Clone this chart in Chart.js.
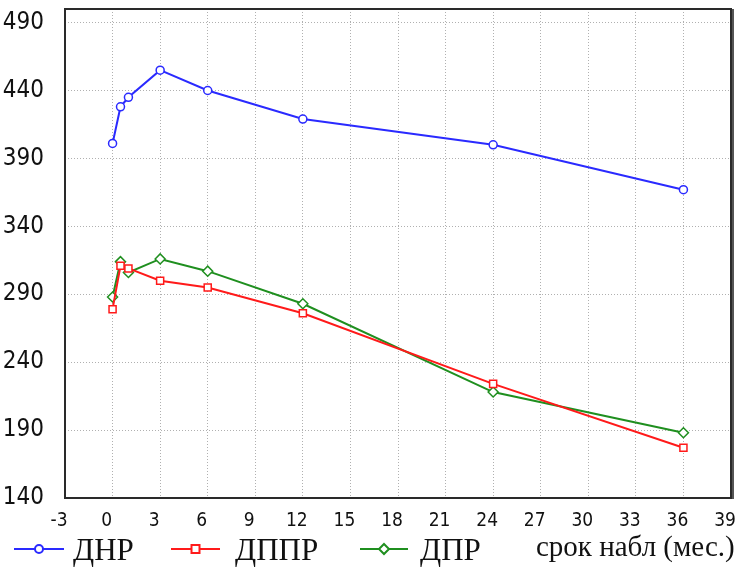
<!DOCTYPE html>
<html>
<head>
<meta charset="utf-8">
<script src="https://cdn.jsdelivr.net/npm/chart.js@4/dist/chart.umd.min.js"></script>
<style>
  html, body { margin: 0; padding: 0; background: #fff; }
  #wrap { width: 738px; height: 571px; }
</style>
</head>
<body>
<div id="wrap"><canvas id="chart" width="738" height="571"></canvas></div>
<script>
// observation time, months
const months = [0, 0.5, 1, 3, 6, 12, 24, 36];
// series values
const dnr = [401, 428, 435, 455, 440, 419, 400, 367];
const dppr = [279, 311, 309, 300, 295, 276, 224, 177];
const dpr = [288, 314, 306, 316, 307, 283, 218, 188];
// tick labels
const xTicks = [-3, 0, 3, 6, 9, 12, 15, 18, 21, 24, 27, 30, 33, 36, 39];
const yTicks = [140, 190, 240, 290, 340, 390, 440, 490];
const seriesNames = ['ДНР', 'ДППР', 'ДПР'];
const xTitle = 'срок набл (мес.)';

const tickFont = "'DejaVu Sans Condensed', 'Liberation Sans', sans-serif";
const serifFont = "'Liberation Serif', 'DejaVu Serif', serif";

function toPoints(vals) {
    return months.map((m, i) => ({ x: m, y: vals[i] }));
}

// plot frame + legend row drawn under the axes
const framePlugin = {
    id: 'frame',
    afterDraw(chart) {
        const ctx = chart.ctx;
        const a = chart.chartArea;
        ctx.save();
        ctx.strokeStyle = '#2a2a2a';
        ctx.lineWidth = 2;
        ctx.strokeRect(a.left, a.top, a.right - a.left, a.bottom - a.top);
        ctx.strokeStyle = '#555';
        ctx.lineWidth = 2;
        ctx.beginPath();
        ctx.moveTo(a.right + 2, a.top);
        ctx.lineTo(a.right + 2, a.bottom + 1);
        ctx.stroke();

        // legend
        const y = 549;
        const items = [
            { x0: 14, x1: 64, tx: 73 },
            { x0: 171, x1: 220, tx: 235 },
            { x0: 360, x1: 408, tx: 420 }
        ];
        ctx.font = '31px ' + serifFont;
        ctx.textBaseline = 'middle';
        ctx.fillStyle = '#111';
        chart.data.datasets.forEach((ds, i) => {
            const it = items[i];
            ctx.strokeStyle = ds.borderColor;
            ctx.lineWidth = 2;
            ctx.beginPath();
            ctx.moveTo(it.x0, y);
            ctx.lineTo(it.x1, y);
            ctx.stroke();
            const cx = (it.x0 + it.x1) / 2;
            ctx.fillStyle = '#fff';
            ctx.beginPath();
            if (ds.pointStyle === 'circle') {
                ctx.arc(cx, y, 4, 0, Math.PI * 2);
            } else if (ds.pointStyle === 'rect') {
                ctx.rect(cx - 4, y - 4, 8, 8);
            } else {
                ctx.moveTo(cx, y - 5); ctx.lineTo(cx + 5, y); ctx.lineTo(cx, y + 5); ctx.lineTo(cx - 5, y); ctx.closePath();
            }
            ctx.fill();
            ctx.stroke();
            ctx.fillStyle = '#111';
            ctx.fillText(ds.label, it.tx, y + 3);
        });
        ctx.font = '29px ' + serifFont;
        ctx.fillText(xTitle, 536, y - 1);
        ctx.restore();
    }
};

new Chart(document.getElementById('chart').getContext('2d'), {
    type: 'line',
    data: {
        datasets: [{
            label: seriesNames[0],
            data: toPoints(dnr),
            borderColor: '#2a2aff',
            pointStyle: 'circle',
            pointRadius: 4,
            borderWidth: 2,
            pointBorderWidth: 1.5,
            pointBackgroundColor: '#fff'
        }, {
            label: seriesNames[1],
            data: toPoints(dppr),
            borderColor: '#ff1a1a',
            pointStyle: 'rect',
            pointRadius: 5,
            borderWidth: 2,
            pointBorderWidth: 1.5,
            pointBackgroundColor: '#fff'
        }, {
            label: seriesNames[2],
            data: toPoints(dpr),
            borderColor: '#1f8f1f',
            pointStyle: 'rectRot',
            pointRadius: 5,
            borderWidth: 2,
            pointBorderWidth: 1.5,
            pointBackgroundColor: '#fff'
        }]
    },
    options: {
        responsive: false,
        animation: false,
        layout: { padding: { top: 9, right: 7, left: 0, bottom: 0 } },
        plugins: {
            legend: { display: false },
            tooltip: { enabled: false }
        },
        elements: { line: { tension: 0 } },
        scales: {
            x: {
                type: 'linear',
                min: -3,
                max: 39,
                afterBuildTicks: scale => { scale.ticks = xTicks.map(v => ({ value: v })); },
                afterFit: scale => {
                    scale.height = 73;
                    scale.paddingLeft = 0;
                    scale.paddingRight = 0;
                },
                grid: { color: '#b0b0b0', drawTicks: false, lineWidth: 1 },
                border: { display: false, dash: [1, 2] },
                ticks: {
                    padding: 12,
                    labelOffset: -6,
                    color: '#111',
                    maxRotation: 0,
                    font: { family: tickFont, size: 19 }
                }
            },
            y: {
                min: 140,
                max: 500,
                afterBuildTicks: scale => { scale.ticks = yTicks.map(v => ({ value: v })); },
                afterFit: scale => {
                    scale.width = 65;
                    scale.paddingTop = 0;
                    scale.paddingBottom = 0;
                },
                grid: { color: '#b0b0b0', drawTicks: false, lineWidth: 1 },
                border: { display: false, dash: [1, 2] },
                ticks: {
                    padding: 21,
                    color: '#111',
                    font: { family: tickFont, size: 24 }
                }
            }
        }
    },
    plugins: [framePlugin]
});
</script>
</body>
</html>
